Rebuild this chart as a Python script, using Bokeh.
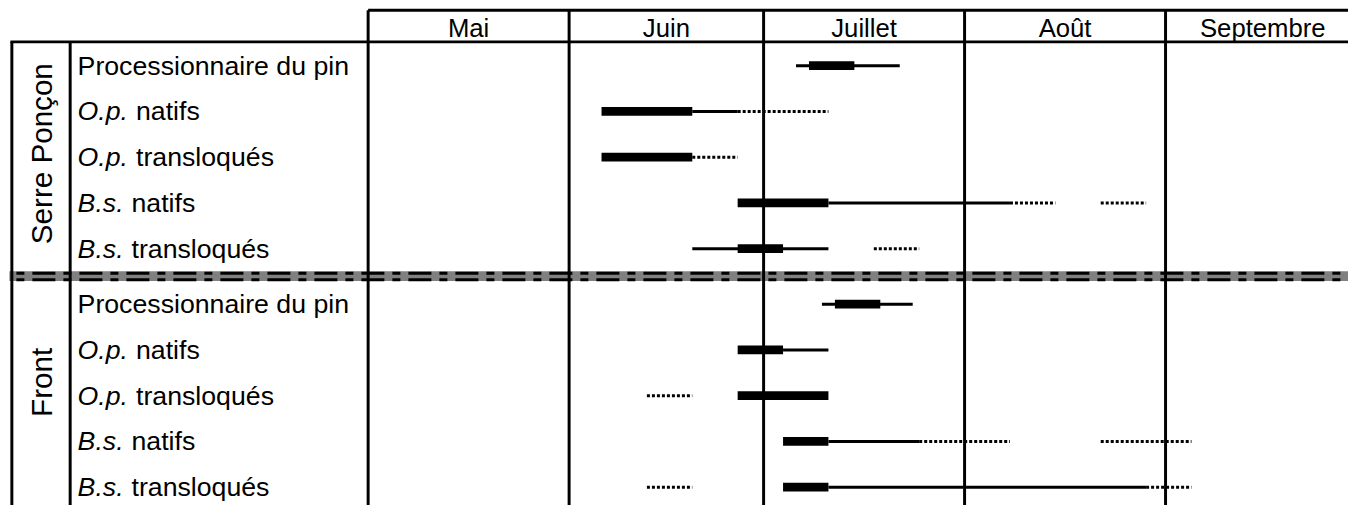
import math
import pandas as pd
from bokeh.plotting import figure
from bokeh.models import Range1d, ColumnDataSource
from bokeh.core.properties import value
from bokeh.embed import file_html
from bokeh.resources import INLINE

# ---------------- data ----------------
YEAR_START = "2010-05-01"
months = ["Mai", "Juin", "Juillet", "Août", "Septembre"]
month_starts = ["2010-05-01", "2010-06-01", "2010-07-01", "2010-08-01", "2010-09-01"]
month_ends = ["2010-06-01", "2010-07-01", "2010-08-01", "2010-09-01", "2010-10-01"]

groups = ["Serre Ponçon", "Front"]
row_abbrev = ["", "O.p.", "O.p.", "B.s.", "B.s."]
row_suffix = ["Processionnaire du pin", "natifs", "transloqués", "natifs", "transloqués"]

# thick bars (main period): group index, row index, start, end
thick_group = [0, 0, 0, 0, 0, 1, 1, 1, 1, 1]
thick_row = [0, 1, 2, 3, 4, 0, 1, 2, 3, 4]
thick_start = ["2010-07-08", "2010-06-06", "2010-06-06", "2010-06-27", "2010-06-27",
               "2010-07-12", "2010-06-27", "2010-06-27", "2010-07-04", "2010-07-04"]
thick_end = ["2010-07-15", "2010-06-20", "2010-06-20", "2010-07-11", "2010-07-04",
             "2010-07-19", "2010-07-04", "2010-07-11", "2010-07-11", "2010-07-11"]

# thin solid lines
thin_group = [0, 0, 0, 0, 1, 1, 1, 1]
thin_row = [0, 1, 3, 4, 0, 1, 3, 4]
thin_start = ["2010-07-06", "2010-06-20", "2010-07-11", "2010-06-20",
              "2010-07-10", "2010-07-04", "2010-07-11", "2010-07-11"]
thin_end = ["2010-07-22", "2010-06-27", "2010-08-08", "2010-07-11",
            "2010-07-24", "2010-07-11", "2010-07-25", "2010-08-29"]

# dotted lines
dot_group = [0, 0, 0, 0, 0, 1, 1, 1, 1, 1]
dot_row = [1, 2, 3, 3, 4, 2, 3, 3, 4, 4]
dot_start = ["2010-06-27", "2010-06-20", "2010-08-08", "2010-08-22", "2010-07-18",
             "2010-06-13", "2010-07-25", "2010-08-22", "2010-06-13", "2010-08-29"]
dot_end = ["2010-07-11", "2010-06-27", "2010-08-15", "2010-08-29", "2010-07-25",
           "2010-06-20", "2010-08-08", "2010-09-05", "2010-06-20", "2010-09-05"]

# ---------------- layout helpers ----------------
t0 = pd.Timestamp(YEAR_START)


def day(s):
    return (pd.Timestamp(s) - t0).days


W, H = 1348, 505          # figure size (fits the window with the 8px margin)
REF_W, REF_H = 1364, 521  # layout designed on this grid
ORIGIN = 372              # pixel of 1 May on the layout grid
PX_PER_DAY = 6.56
X0 = -ORIGIN / PX_PER_DAY
X1 = (REF_W - ORIGIN) / PX_PER_DAY
S = W / REF_W             # pixel scaling for widths and fonts


def xpx(px):
    return (px - ORIGIN) / PX_PER_DAY


ROW_TOP = [67.3, 313.3]
ROW_STEP = 47.2


def row_y(g, r):
    return ROW_TOP[g] + ROW_STEP * r


p = figure(width=W, height=H, output_backend="svg", toolbar_location=None,
           x_range=Range1d(X0, X1), y_range=Range1d(REF_H, 0), min_border=0)
p.axis.visible = False
p.grid.visible = False
p.outline_line_color = None
p.background_fill_color = "white"
p.border_fill_color = "white"

FONT = "Liberation Sans"
BLACK = "#000000"
LW = 3 * S


def fs(px):
    return f"{px * S:.1f}px"


# separator between groups
p.segment(x0=[xpx(9)], x1=[X1], y0=[284.3], y1=[284.3], line_color="#808080", line_width=10 * S)
for yy in (281.3, 288.0):
    p.segment(x0=[xpx(9)], x1=[X1], y0=[yy], y1=[yy], line_color=BLACK, line_width=LW,
              line_dash="23 8 8 8", line_dash_offset=24)

# grid lines of the table
mstart = [day(s) for s in month_starts]
p.segment(x0=mstart, x1=mstart, y0=[10] * len(mstart), y1=[REF_H] * len(mstart),
          line_color=BLACK, line_width=LW)
left_lines = [xpx(11.5), xpx(70.5)]
p.segment(x0=left_lines, x1=left_lines, y0=[42.7, 42.7], y1=[REF_H, REF_H],
          line_color=BLACK, line_width=LW)
p.segment(x0=[0, xpx(10)], x1=[X1, X1], y0=[10, 42.7], y1=[10, 42.7],
          line_color=BLACK, line_width=LW)

# month headers
mid = [(day(a) + day(b)) / 2 for a, b in zip(month_starts, month_ends)]
p.text(x=mid, y=[28] * len(mid), text=months, text_font=value(FONT), text_font_size=fs(26),
       text_align="center", text_baseline="middle", text_color=BLACK)

# group labels
p.text(x=[xpx(41), xpx(41)], y=[158, 394], text=groups, angle=[math.pi / 2] * 2,
       text_font=value(FONT), text_font_size=fs(30), text_align="center",
       text_baseline="middle", text_color=BLACK)

# row labels (italic abbreviation + regular text)
LAB = 27
ab_em = {"": 0.0, "O.p.": 1.89 + 0.30, "B.s.": 1.72 + 0.30}
lab_x, lab_y, ab, suf, offs = [], [], [], [], []
for g in range(2):
    for r in range(5):
        lab_x.append(xpx(78))
        lab_y.append(row_y(g, r))
        ab.append(row_abbrev[r])
        suf.append(row_suffix[r])
        offs.append(ab_em[row_abbrev[r]] * LAB * S)
src_lab = ColumnDataSource(dict(x=lab_x, y=lab_y, ab=ab, suf=suf, off=offs))
p.text(x="x", y="y", text="ab", source=src_lab, text_font=value(FONT), text_font_style="italic",
       text_font_size=fs(LAB), text_baseline="middle", text_color=BLACK)
p.text(x="x", y="y", text="suf", x_offset="off", source=src_lab, text_font=value(FONT),
       text_font_size=fs(LAB), text_baseline="middle", text_color=BLACK)

# thin lines
p.segment(x0=[day(s) for s in thin_start], x1=[day(s) for s in thin_end],
          y0=[row_y(g, r) for g, r in zip(thin_group, thin_row)],
          y1=[row_y(g, r) for g, r in zip(thin_group, thin_row)],
          line_color=BLACK, line_width=LW)
# dotted lines
p.segment(x0=[day(s) for s in dot_start], x1=[day(s) for s in dot_end],
          y0=[row_y(g, r) for g, r in zip(dot_group, dot_row)],
          y1=[row_y(g, r) for g, r in zip(dot_group, dot_row)],
          line_color=BLACK, line_width=LW, line_dash="3 2")
# thick bars
p.hbar(y=[row_y(g, r) for g, r in zip(thick_group, thick_row)], height=9,
       left=[day(s) for s in thick_start], right=[day(s) for s in thick_end],
       fill_color=BLACK, line_color=None)

open("out.html", "w").write(file_html(p, INLINE))
